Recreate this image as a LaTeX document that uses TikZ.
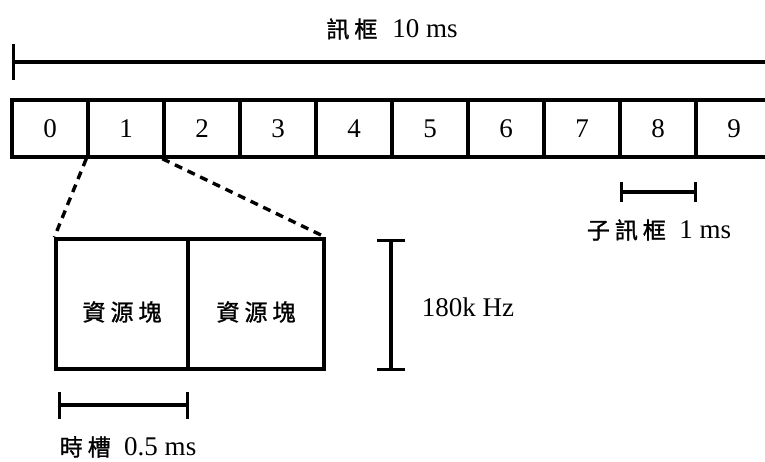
\documentclass[tikz,border=0pt]{standalone}
\usepackage{fontspec}
\setmainfont{Liberation Serif}
\newfontfamily\cjk[FakeBold=1.2]{Noto Sans CJK TC}
\newcommand\cjkt[1]{{\cjk\fontsize{23}{27}\selectfont #1}}
\newcommand\gp{\hspace{5pt}}
\usetikzlibrary{arrows.meta}
\begin{document}
\begin{tikzpicture}[x=1pt,y=-1pt,
  every node/.style={font=\fontsize{27}{30}\selectfont, inner sep=0pt},
  heavy/.style={line width=3.4pt},
  cell/.style={draw, line width=3.4pt, minimum width=76pt, minimum height=57pt},
  rbox/.style={draw, line width=3.4pt, minimum height=130pt},
  dashline/.style={line width=3.4pt, dash pattern=on 8pt off 6pt},
  span/.style={heavy, {Bar[width=#1,line width=3.4pt]}-{Bar[width=#1,line width=3.4pt]}}
]
\useasboundingbox (0,0) rectangle (765,462);

% frame 10 ms
\node (title) at (392,29) {\cjkt{訊\gp 框}\hspace{0.55em}10 ms};
\coordinate (fl) at (12,62);
\coordinate (fr) at (772,62);
\draw[heavy, {Bar[width=36pt,line width=3.4pt]}-] (fl) -- (fr);

% subframes
\foreach \i in {0,...,9}
  \node[cell] (c\i) at ({50+76*\i},128.5) {\i};

% subframe span
\coordinate (sa) at (620,192);
\coordinate (sb) at (697,192);
\draw[span=20pt] (sa) -- (sb);
\node (subl) at (659,230) {\cjkt{子\gp 訊\gp 框}\hspace{0.5em}1 ms};

% resource blocks
\node[rbox, minimum width=132pt] (rb1) at (122,304) {};
\node[rbox, minimum width=136pt] (rb2) at (256,304) {};
\node (t1) at (122,312) {\cjkt{資\gp 源\gp 塊}};
\node (t2) at (256,312) {\cjkt{資\gp 源\gp 塊}};

% zoom lines
\draw[dashline] (c1.south west) -- (rb1.north west);
\draw[dashline] (c2.south west) -- (rb2.north east);

% frequency span
\coordinate (fa) at (391,239);
\coordinate (fb) at (391,371);
\draw[span=28pt] (fa) -- (fb);
\node (freq) at (468,307) {180k Hz};

% slot span
\coordinate (ta) at (58,405);
\coordinate (tb) at (189,405);
\draw[span=27pt] (ta) -- (tb);
\node (slot) at (128,447) {\cjkt{時\gp 槽}\hspace{0.5em}0.5 ms};
\end{tikzpicture}
\end{document}
